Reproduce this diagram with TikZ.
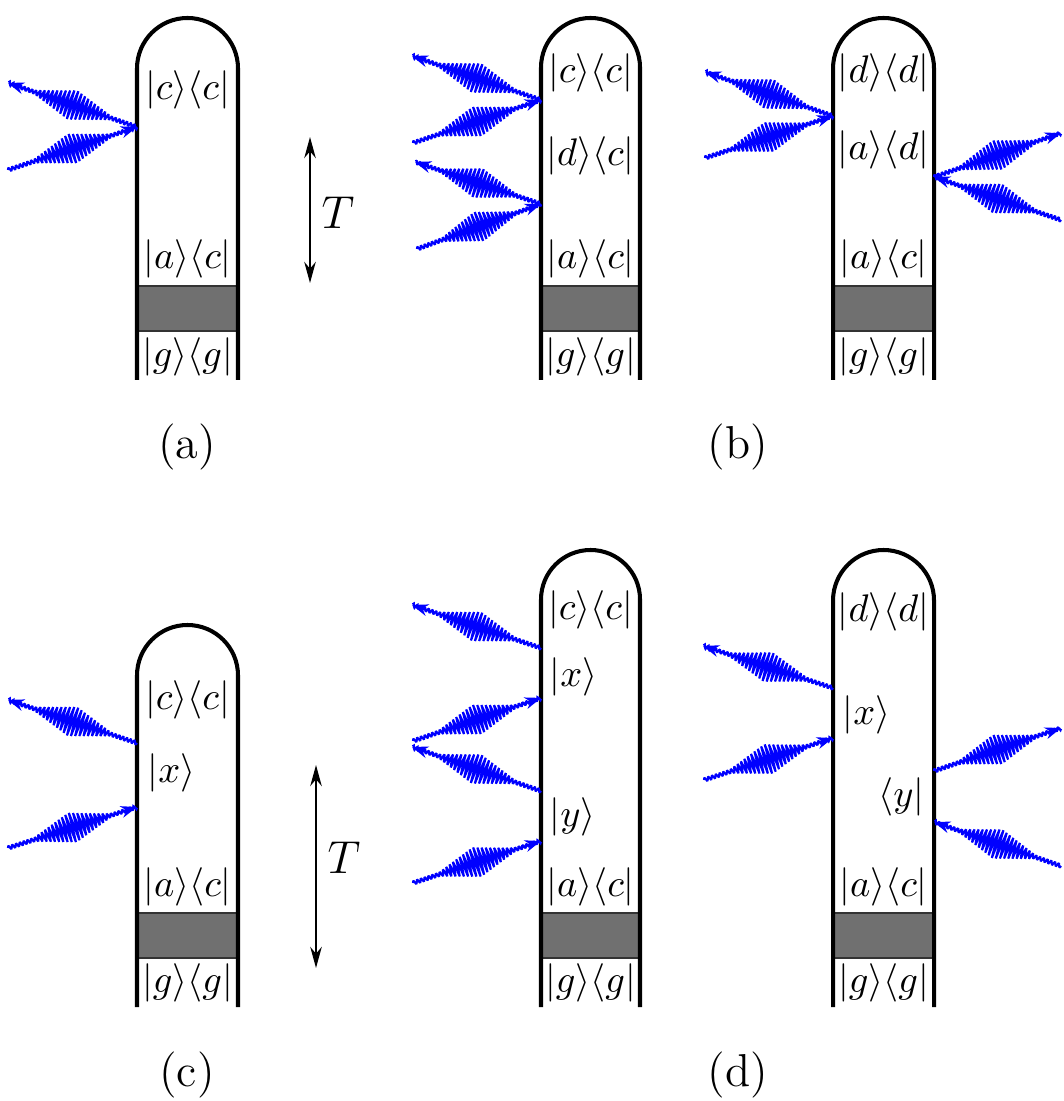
\documentclass[tikz,border=0pt]{standalone}
\usetikzlibrary{arrows.meta,calc}
\tikzset{
  wall/.style={line width=1.05pt, line join=round},
  graybox/.style={fill=black!56, draw=black!80, line width=0.35pt},
  ket/.style={inner sep=0pt},
  photonline/.style={blue, line width=0.55pt, line join=miter, miter limit=2},
  photontip/.style={blue, line width=0.55pt, -{Stealth[length=4.2pt,width=3.1pt]}},
  timearrow/.style={line width=0.45pt, {Stealth[length=5.5pt,width=3pt]}-{Stealth[length=5.5pt,width=3pt]}},
  panellabel/.style={font=\large, inner sep=0pt},
}
\newcommand\capsule[6]{%
  \pgfmathsetmacro\capr{(#2-#1)/2}%
  \pgfmathsetmacro\capc{(#2+#1)/2}%
  \pgfmathsetmacro\caps{#3+\capr}%
  \pgfmathsetmacro\capk{0.5523*\capr}%
  \draw[graybox] (#1,#5) rectangle (#2,#6);
  \draw[wall] (#1,#4) -- (#1,\caps)
    .. controls (#1,\caps-\capk) and (\capc-\capk,#3) .. (\capc,#3)
    .. controls (\capc+\capk,#3) and (#2,\caps-\capk) .. (#2,\caps) -- (#2,#4);
}
% zigzag wave packet: 34 cycles, 4 samples per cycle
\newcommand\photon[2]{%
  \draw[photonline] let \p1=(#1), \p2=(#2),
      \n1={veclen(\x2-\x1,\y2-\y1)} in
    plot[domain=0:1, samples=137, variable=\t]
    ({\x1+\t*(\x2-\x1)-(\y2-\y1)/\n1*(0.55+3.5*max(0,1-abs(\t-0.5)/0.29))*sin(360*34*\t)},
     {\y1+\t*(\y2-\y1)+(\x2-\x1)/\n1*(0.55+3.5*max(0,1-abs(\t-0.5)/0.29))*sin(360*34*\t)});
  \draw[photontip] ($(#1)!0.9!(#2)$) -- (#2);
}
\begin{document}
\begin{tikzpicture}[x=0.26pt, y=-0.26pt]
\useasboundingbox (0,0) rectangle (1063,1101);

% ---------- (a)
\capsule{137}{238}{18}{380}{286}{331}
\node[ket] (a1) at (187.5,90)  {$|c\rangle\langle c|$};
\node[ket] (a2) at (187.5,259) {$|a\rangle\langle c|$};
\node[ket] (a3) at (187.5,357) {$|g\rangle\langle g|$};
\coordinate (aW) at (137,127);
\coordinate (aO) at (8,83);
\coordinate (aI) at (8,170);
\photon{aW}{aO}
\photon{aI}{aW}
\coordinate (aTt) at (310,137);
\coordinate (aTb) at (310,283);
\draw[timearrow] (aTt) -- (aTb);
\node[panellabel] (aT) at (338,213) {$T$};
\node[panellabel] (laba) at (187,447) {(a)};

% ---------- (b) left
\capsule{541}{640}{18}{380}{286}{331}
\node[ket] (b11) at (590.5,73)  {$|c\rangle\langle c|$};
\node[ket] (b12) at (590.5,156) {$|d\rangle\langle c|$};
\node[ket] (b13) at (590.5,259) {$|a\rangle\langle c|$};
\node[ket] (b14) at (590.5,357) {$|g\rangle\langle g|$};
\coordinate (b1W1) at (541,100);
\coordinate (b1O1) at (412,56);
\coordinate (b1I1) at (413,143);
\coordinate (b1W2) at (541,204);
\coordinate (b1O2) at (415,162);
\coordinate (b1I2) at (417,249);
\photon{b1W1}{b1O1}
\photon{b1I1}{b1W1}
\photon{b1W2}{b1O2}
\photon{b1I2}{b1W2}

% ---------- (b) right
\capsule{833}{934}{18}{380}{286}{331}
\node[ket] (b21) at (883.5,73)  {$|d\rangle\langle d|$};
\node[ket] (b22) at (883.5,150) {$|a\rangle\langle d|$};
\node[ket] (b23) at (883.5,259) {$|a\rangle\langle c|$};
\node[ket] (b24) at (883.5,357) {$|g\rangle\langle g|$};
\coordinate (b2WL) at (833,116);
\coordinate (b2OL) at (705,72);
\coordinate (b2IL) at (705,158);
\coordinate (b2WR) at (934,177);
\coordinate (b2OR) at (1061,133);
\coordinate (b2IR) at (1061,220);
\photon{b2WL}{b2OL}
\photon{b2IL}{b2WL}
\photon{b2WR}{b2OR}
\photon{b2IR}{b2WR}
\node[panellabel] (labb) at (738,447) {(b)};

% ---------- (c)
\capsule{137}{238}{625}{1007}{913}{958}
\node[ket] (c1) at (187.5,700) {$|c\rangle\langle c|$};
\node[ket, anchor=west] (c2) at (147,773) {$|x\rangle$};
\node[ket] (c3) at (187.5,887) {$|a\rangle\langle c|$};
\node[ket] (c4) at (187.5,983) {$|g\rangle\langle g|$};
\coordinate (cW1) at (137,743);
\coordinate (cO) at (8,700);
\coordinate (cI) at (8,848);
\coordinate (cW2) at (137,807);
\photon{cW1}{cO}
\photon{cI}{cW2}
\coordinate (cTt) at (316,765);
\coordinate (cTb) at (316,968);
\draw[timearrow] (cTt) -- (cTb);
\node[panellabel] (cT) at (344,858) {$T$};
\node[panellabel] (labc) at (187,1075) {(c)};

% ---------- (d) left
\capsule{541}{640}{550}{1007}{913}{958}
\node[ket] (d11) at (590.5,610) {$|c\rangle\langle c|$};
\node[ket, anchor=west] (d12) at (549,677) {$|x\rangle$};
\node[ket, anchor=west] (d13) at (549,817) {$|y\rangle$};
\node[ket] (d14) at (590.5,887) {$|a\rangle\langle c|$};
\node[ket] (d15) at (590.5,983) {$|g\rangle\langle g|$};
\coordinate (d1W1) at (541,648);
\coordinate (d1O1) at (412,605);
\coordinate (d1I1) at (413,741);
\coordinate (d1W2) at (541,698);
\coordinate (d1W3) at (541,791);
\coordinate (d1O2) at (412,747);
\coordinate (d1I2) at (413,883);
\coordinate (d1W4) at (541,841);
\photon{d1W1}{d1O1}
\photon{d1I1}{d1W2}
\photon{d1W3}{d1O2}
\photon{d1I2}{d1W4}

% ---------- (d) right
\capsule{833}{934}{550}{1007}{913}{958}
\node[ket] (d21) at (883.5,612) {$|d\rangle\langle d|$};
\node[ket, anchor=west] (d22) at (842,715) {$|x\rangle$};
\node[ket, anchor=east] (d23) at (925,797) {$\langle y|$};
\node[ket] (d24) at (883.5,887) {$|a\rangle\langle c|$};
\node[ket] (d25) at (883.5,983) {$|g\rangle\langle g|$};
\coordinate (d2W1) at (833,688);
\coordinate (d2O1) at (703,646);
\coordinate (d2I1) at (704,780);
\coordinate (d2W2) at (833,738);
\coordinate (d2W3) at (934,771);
\coordinate (d2O2) at (1061,728);
\coordinate (d2I2) at (1061,866);
\coordinate (d2W4) at (934,822);
\photon{d2W1}{d2O1}
\photon{d2I1}{d2W2}
\photon{d2W3}{d2O2}
\photon{d2I2}{d2W4}
\node[panellabel] (labd) at (738,1075) {(d)};
\end{tikzpicture}
\end{document}
